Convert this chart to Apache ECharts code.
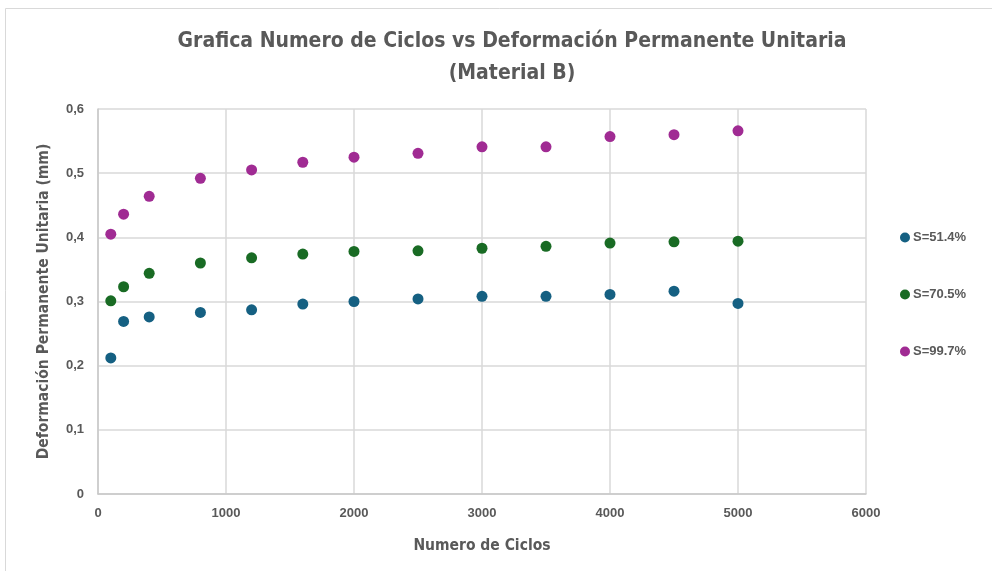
<!DOCTYPE html>
<html>
<head>
<meta charset="utf-8">
<script src="https://cdn.jsdelivr.net/npm/echarts@6/dist/echarts.min.js"></script>
<style>
  html, body { margin: 0; padding: 0; background: #fff; }
  #chart { width: 992px; height: 571px; }
</style>
</head>
<body>
<div id="chart"></div>
<script>
  // ciclos (eje x)
  const ciclos = [100, 200, 400, 800, 1200, 1600, 2000, 2500, 3000, 3500, 4000, 4500, 5000];
  const serieNombres = ['S=51.4%', 'S=70.5%', 'S=99.7%'];
  const s514 = [0.212, 0.269, 0.276, 0.283, 0.287, 0.296, 0.300, 0.304, 0.308, 0.308, 0.311, 0.316, 0.297];
  const s705 = [0.301, 0.323, 0.344, 0.360, 0.368, 0.374, 0.378, 0.379, 0.383, 0.386, 0.391, 0.393, 0.394];
  const s997 = [0.405, 0.436, 0.464, 0.492, 0.505, 0.517, 0.525, 0.531, 0.541, 0.541, 0.557, 0.560, 0.566];
  const colores = ['#156082', '#196B24', '#A02B93'];

  const myChart = echarts.init(document.getElementById('chart'));
  const textGray = '#595959';
  const narrow = '"DejaVu Sans Condensed", "Roboto Condensed", Roboto, sans-serif';
  const labelFont = { color: textGray, fontWeight: 'bold', fontSize: 13, fontFamily: 'Liberation Sans' };

  const toPairs = (ys) => ciclos.map((x, i) => [x, ys[i]]);

  const option = {
    animation: false,
    title: {
      text: 'Grafica Numero de Ciclos vs Deformación Permanente Unitaria\n(Material B)',
      left: 507,
      textAlign: 'center',
      top: 21,
      textStyle: {
        color: textGray,
        fontWeight: 'bold',
        fontSize: 21,
        lineHeight: 32,
        fontFamily: narrow
      }
    },
    graphic: [{
      type: 'rect',
      shape: { x: 5.5, y: 8.5, width: 1000, height: 600 },
      style: { fill: 'none', stroke: '#d9d9d9', lineWidth: 1 },
      silent: true
    }],
    legend: {
      orient: 'vertical',
      left: 895,
      top: 226,
      itemGap: 44,
      itemWidth: 10,
      itemHeight: 13,
      icon: 'circle',
      data: serieNombres,
      textStyle: { color: textGray, fontWeight: 'bold', fontSize: 13, fontFamily: 'Liberation Sans', padding: [0, 0, 0, -2] }
    },
    grid: {
      left: 98,
      right: 126,
      top: 109,
      bottom: 77
    },
    xAxis: {
      type: 'value',
      min: 0,
      max: 6000,
      interval: 1000,
      name: 'Numero de Ciclos',
      nameLocation: 'middle',
      nameGap: 44,
      nameTextStyle: { color: textGray, fontWeight: 'bold', fontSize: 15.5, fontFamily: narrow },
      axisLine: { show: true, lineStyle: { color: '#c8c8c8', width: 1.5 } },
      axisTick: { show: false },
      axisLabel: Object.assign({ margin: 13, formatter: (v) => String(v) }, labelFont),
      splitLine: { show: true, lineStyle: { color: '#d9d9d9', width: 1.5 } }
    },
    yAxis: {
      type: 'value',
      min: 0,
      max: 0.6,
      interval: 0.1,
      name: 'Deformación Permanente Unitaria (mm)',
      nameLocation: 'middle',
      nameGap: 46,
      nameTextStyle: { color: textGray, fontWeight: 'bold', fontSize: 15.5, fontFamily: narrow },
      axisLine: { show: true, lineStyle: { color: '#c8c8c8', width: 1.5 } },
      axisTick: { show: false },
      axisLabel: Object.assign({
        margin: 14,
        formatter: (v) => v === 0 ? '0' : v.toFixed(1).replace('.', ',')
      }, labelFont),
      splitLine: { show: true, lineStyle: { color: '#d9d9d9', width: 1.5 } }
    },
    series: [
      { name: serieNombres[0], type: 'scatter', data: toPairs(s514), symbolSize: 11, itemStyle: { color: colores[0], opacity: 1 } },
      { name: serieNombres[1], type: 'scatter', data: toPairs(s705), symbolSize: 11, itemStyle: { color: colores[1], opacity: 1 } },
      { name: serieNombres[2], type: 'scatter', data: toPairs(s997), symbolSize: 11, itemStyle: { color: colores[2], opacity: 1 } }
    ]
  };

  myChart.setOption(option);
</script>
</body>
</html>
